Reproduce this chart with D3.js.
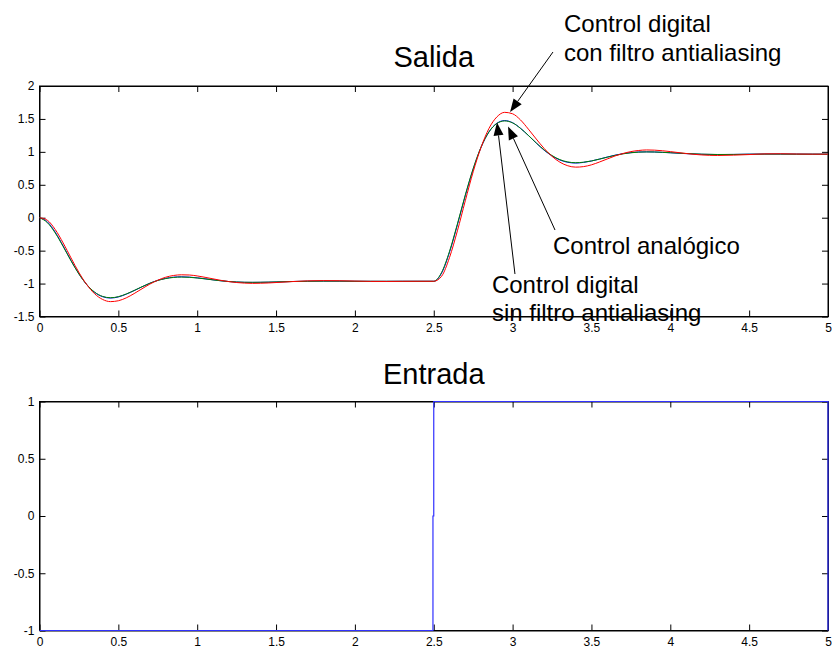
<!DOCTYPE html>
<html><head><meta charset="utf-8">
<script src="https://cdn.jsdelivr.net/npm/d3@7"></script>
<style>body{margin:0;background:#fff} text{font-family:"Liberation Sans",Arial,Helvetica,sans-serif}</style>
</head><body><svg id="c" width="835" height="652"></svg>
<script>
// time grid for each half of the run (second half = 2.5 + tHalf)
const tHalf = [0,0.05,0.1,0.15,0.2,0.25,0.3,0.35,0.4,0.45,0.5,0.55,0.6,0.65,0.7,0.75,0.8,0.85,0.9,0.95,1.0,1.05,1.1,1.15,1.2,1.25,1.3,1.35,1.4,1.45,1.5,1.6,1.7,1.8,1.9,2.0,2.1,2.2,2.3,2.4,2.5];
const stepTime = 2.5;
// Salida: three responses
const blueA = [0,-0.063,-0.220,-0.428,-0.649,-0.852,-1.017,-1.134,-1.199,-1.220,-1.203,-1.161,-1.107,-1.049,-0.995,-0.951,-0.921,-0.903,-0.897,-0.902,-0.913,-0.927,-0.943,-0.957,-0.969,-0.977,-0.981,-0.982,-0.981,-0.979,-0.976,-0.969,-0.964,-0.962,-0.963,-0.965,-0.966,-0.966,-0.965,-0.965,-0.965];
const blueB = [-0.965,-0.840,-0.525,-0.108,0.334,0.739,1.069,1.303,1.434,1.475,1.442,1.358,1.249,1.133,1.025,0.938,0.876,0.841,0.830,0.840,0.861,0.890,0.921,0.950,0.973,0.988,0.998,1.000,0.998,0.992,0.986,0.973,0.963,0.959,0.961,0.965,0.967,0.967,0.966,0.965,0.965];
const greenA = [0,-0.075,-0.232,-0.437,-0.655,-0.855,-1.016,-1.131,-1.195,-1.215,-1.199,-1.158,-1.105,-1.048,-0.995,-0.953,-0.924,-0.907,-0.901,-0.905,-0.915,-0.929,-0.944,-0.958,-0.969,-0.976,-0.980,-0.981,-0.980,-0.978,-0.975,-0.969,-0.965,-0.963,-0.963,-0.965,-0.965,-0.965,-0.965,-0.965,-0.965];
const greenB = [-0.965,-0.830,-0.510,-0.095,0.345,0.745,1.072,1.302,1.430,1.470,1.440,1.357,1.250,1.136,1.030,0.944,0.882,0.847,0.835,0.843,0.862,0.889,0.919,0.947,0.970,0.986,0.996,0.999,0.998,0.993,0.987,0.975,0.965,0.960,0.961,0.964,0.966,0.966,0.965,0.965,0.965];
const redA = [0,-0.039,-0.180,-0.383,-0.611,-0.831,-1.017,-1.156,-1.241,-1.274,-1.261,-1.217,-1.152,-1.079,-1.008,-0.949,-0.904,-0.877,-0.867,-0.870,-0.884,-0.905,-0.928,-0.951,-0.970,-0.984,-0.993,-0.997,-0.995,-0.991,-0.984,-0.970,-0.959,-0.955,-0.957,-0.962,-0.967,-0.968,-0.966,-0.965,-0.965];
const redB = [-0.965,-0.888,-0.604,-0.199,0.257,0.697,1.069,1.355,1.530,1.600,1.578,1.485,1.345,1.195,1.052,0.932,0.843,0.789,0.768,0.776,0.803,0.845,0.892,0.938,0.975,1.004,1.021,1.029,1.026,1.017,1.004,0.975,0.953,0.945,0.950,0.959,0.969,0.971,0.967,0.965,0.965];
// Entrada: square input
const inputT = [0,2.495,2.495,2.5,2.5,5,5,5];
const inputV = [-1,-1,0,0,1,1,0,-1];
// ticks
const xTicks = [0,0.5,1,1.5,2,2.5,3,3.5,4,4.5,5];
const yTicksTop = [-1.5,-1,-0.5,0,0.5,1,1.5,2];
const yTicksBottom = [-1,-0.5,0,0.5,1];
// titles & annotations
const titles = ["Salida","Entrada"];
const annotations = [
  {lines:["Control digital","con filtro antialiasing"], t:3.326, v:[2.82,2.379], tail:[3.256,2.516], tip:[2.984,1.605]},
  {lines:["Control analógico"], t:3.256, v:[-0.551], tail:[3.269,-0.187], tip:[2.971,1.385]},
  {lines:["Control digital","sin filtro antialiasing"], t:2.869, v:[-1.136,-1.568], tail:[3.015,-0.855], tip:[2.901,1.445]}
];

const svg = d3.select("#c");
const x = d3.scaleLinear().domain([0,5]).range([39.5,828]);
const yTop = d3.scaleLinear().domain([-1.5,2]).range([316.5,86]);
const yBot = d3.scaleLinear().domain([-1,1]).range([630.5,401.5]);
const fmt = d => String(d);

function axes(y, yTicks){
  const [y0,y1] = y.range();
  const g = svg.append("g");
  const styl = s => s.attr("font-size",12).attr("font-family","Liberation Sans, Arial, sans-serif")
     .call(a=>a.selectAll("line").attr("stroke","#000")).call(a=>a.selectAll(".domain").attr("stroke","#000"))
     .call(a=>a.selectAll("text").attr("fill","#000"));
  g.append("g").attr("transform",`translate(0,${y0})`)
    .call(d3.axisBottom(x).tickValues(xTicks).tickSize(-6).tickSizeOuter(0).tickPadding(7).tickFormat(fmt)).call(styl);
  g.append("g").attr("transform",`translate(0,${y1})`)
    .call(d3.axisTop(x).tickValues(xTicks).tickSize(-6).tickSizeOuter(0).tickFormat(()=>"")).call(styl);
  g.append("g").attr("transform",`translate(${x.range()[0]},0)`)
    .call(d3.axisLeft(y).tickValues(yTicks).tickSize(-6).tickSizeOuter(0).tickPadding(5).tickFormat(fmt)).call(styl);
  g.append("g").attr("transform",`translate(${x.range()[1]},0)`)
    .call(d3.axisRight(y).tickValues(yTicks).tickSize(-6).tickSizeOuter(0).tickFormat(()=>"")).call(styl);
  g.append("rect").attr("x",x.range()[0]).attr("y",y1).attr("width",x.range()[1]-x.range()[0]).attr("height",y0-y1)
    .attr("fill","none").attr("stroke","#000").attr("stroke-width",1);
}
axes(yTop, yTicksTop);
axes(yBot, yTicksBottom);

// titles
svg.append("text").attr("x",(x.range()[0]+x.range()[1])/2).attr("y",66.5).attr("text-anchor","middle").attr("font-size",29).text(titles[0]);
svg.append("text").attr("x",(x.range()[0]+x.range()[1])/2).attr("y",383.5).attr("text-anchor","middle").attr("font-size",29).text(titles[1]);

// response lines
const fullT = tHalf.concat(tHalf.map(t=>t+stepTime));
function series(a,b){ return fullT.map((t,i)=>[t, i<tHalf.length ? a[i] : b[i-tHalf.length]]); }
const lineTop = d3.line().x(d=>x(d[0])).y(d=>yTop(d[1])).curve(d3.curveMonotoneX);
const plotG = svg.append("g");
[[blueA,blueB,"#0000ff"],[greenA,greenB,"#008000"],[redA,redB,"#ff0000"]].forEach(([a,b,c])=>{
  plotG.append("path").datum(series(a,b)).attr("d",lineTop).attr("fill","none").attr("stroke",c).attr("stroke-width",1);
});

// input line
const lineBot = d3.line().x(d=>x(d[0])).y(d=>yBot(d[1]));
svg.append("path").datum(inputT.map((t,i)=>[t,inputV[i]])).attr("d",lineBot)
  .attr("fill","none").attr("stroke","#3030ff").attr("stroke-width",1.2);

// annotations
const annG = svg.append("g");
annotations.forEach(a=>{
  const x0=x(a.tail[0]), y0=yTop(a.tail[1]), x1=x(a.tip[0]), y1=yTop(a.tip[1]);
  const dx=x1-x0, dy=y1-y0, L=Math.hypot(dx,dy), ux=dx/L, uy=dy/L;
  const hl=13, hw=5;
  const bx=x1-ux*hl, by=y1-uy*hl;
  annG.append("line").attr("x1",x0).attr("y1",y0).attr("x2",bx).attr("y2",by).attr("stroke","#000").attr("stroke-width",1);
  annG.append("polygon").attr("points",[[x1,y1],[bx-uy*hw,by+ux*hw],[bx+uy*hw,by-ux*hw]].map(p=>p.join(",")).join(" ")).attr("fill","#000");
  a.lines.forEach((s,i)=>{
    annG.append("text").attr("x",x(a.t)).attr("y",yTop(a.v[i])).attr("font-size",24).attr("fill","#000").text(s);
  });
});
</script></body></html>
